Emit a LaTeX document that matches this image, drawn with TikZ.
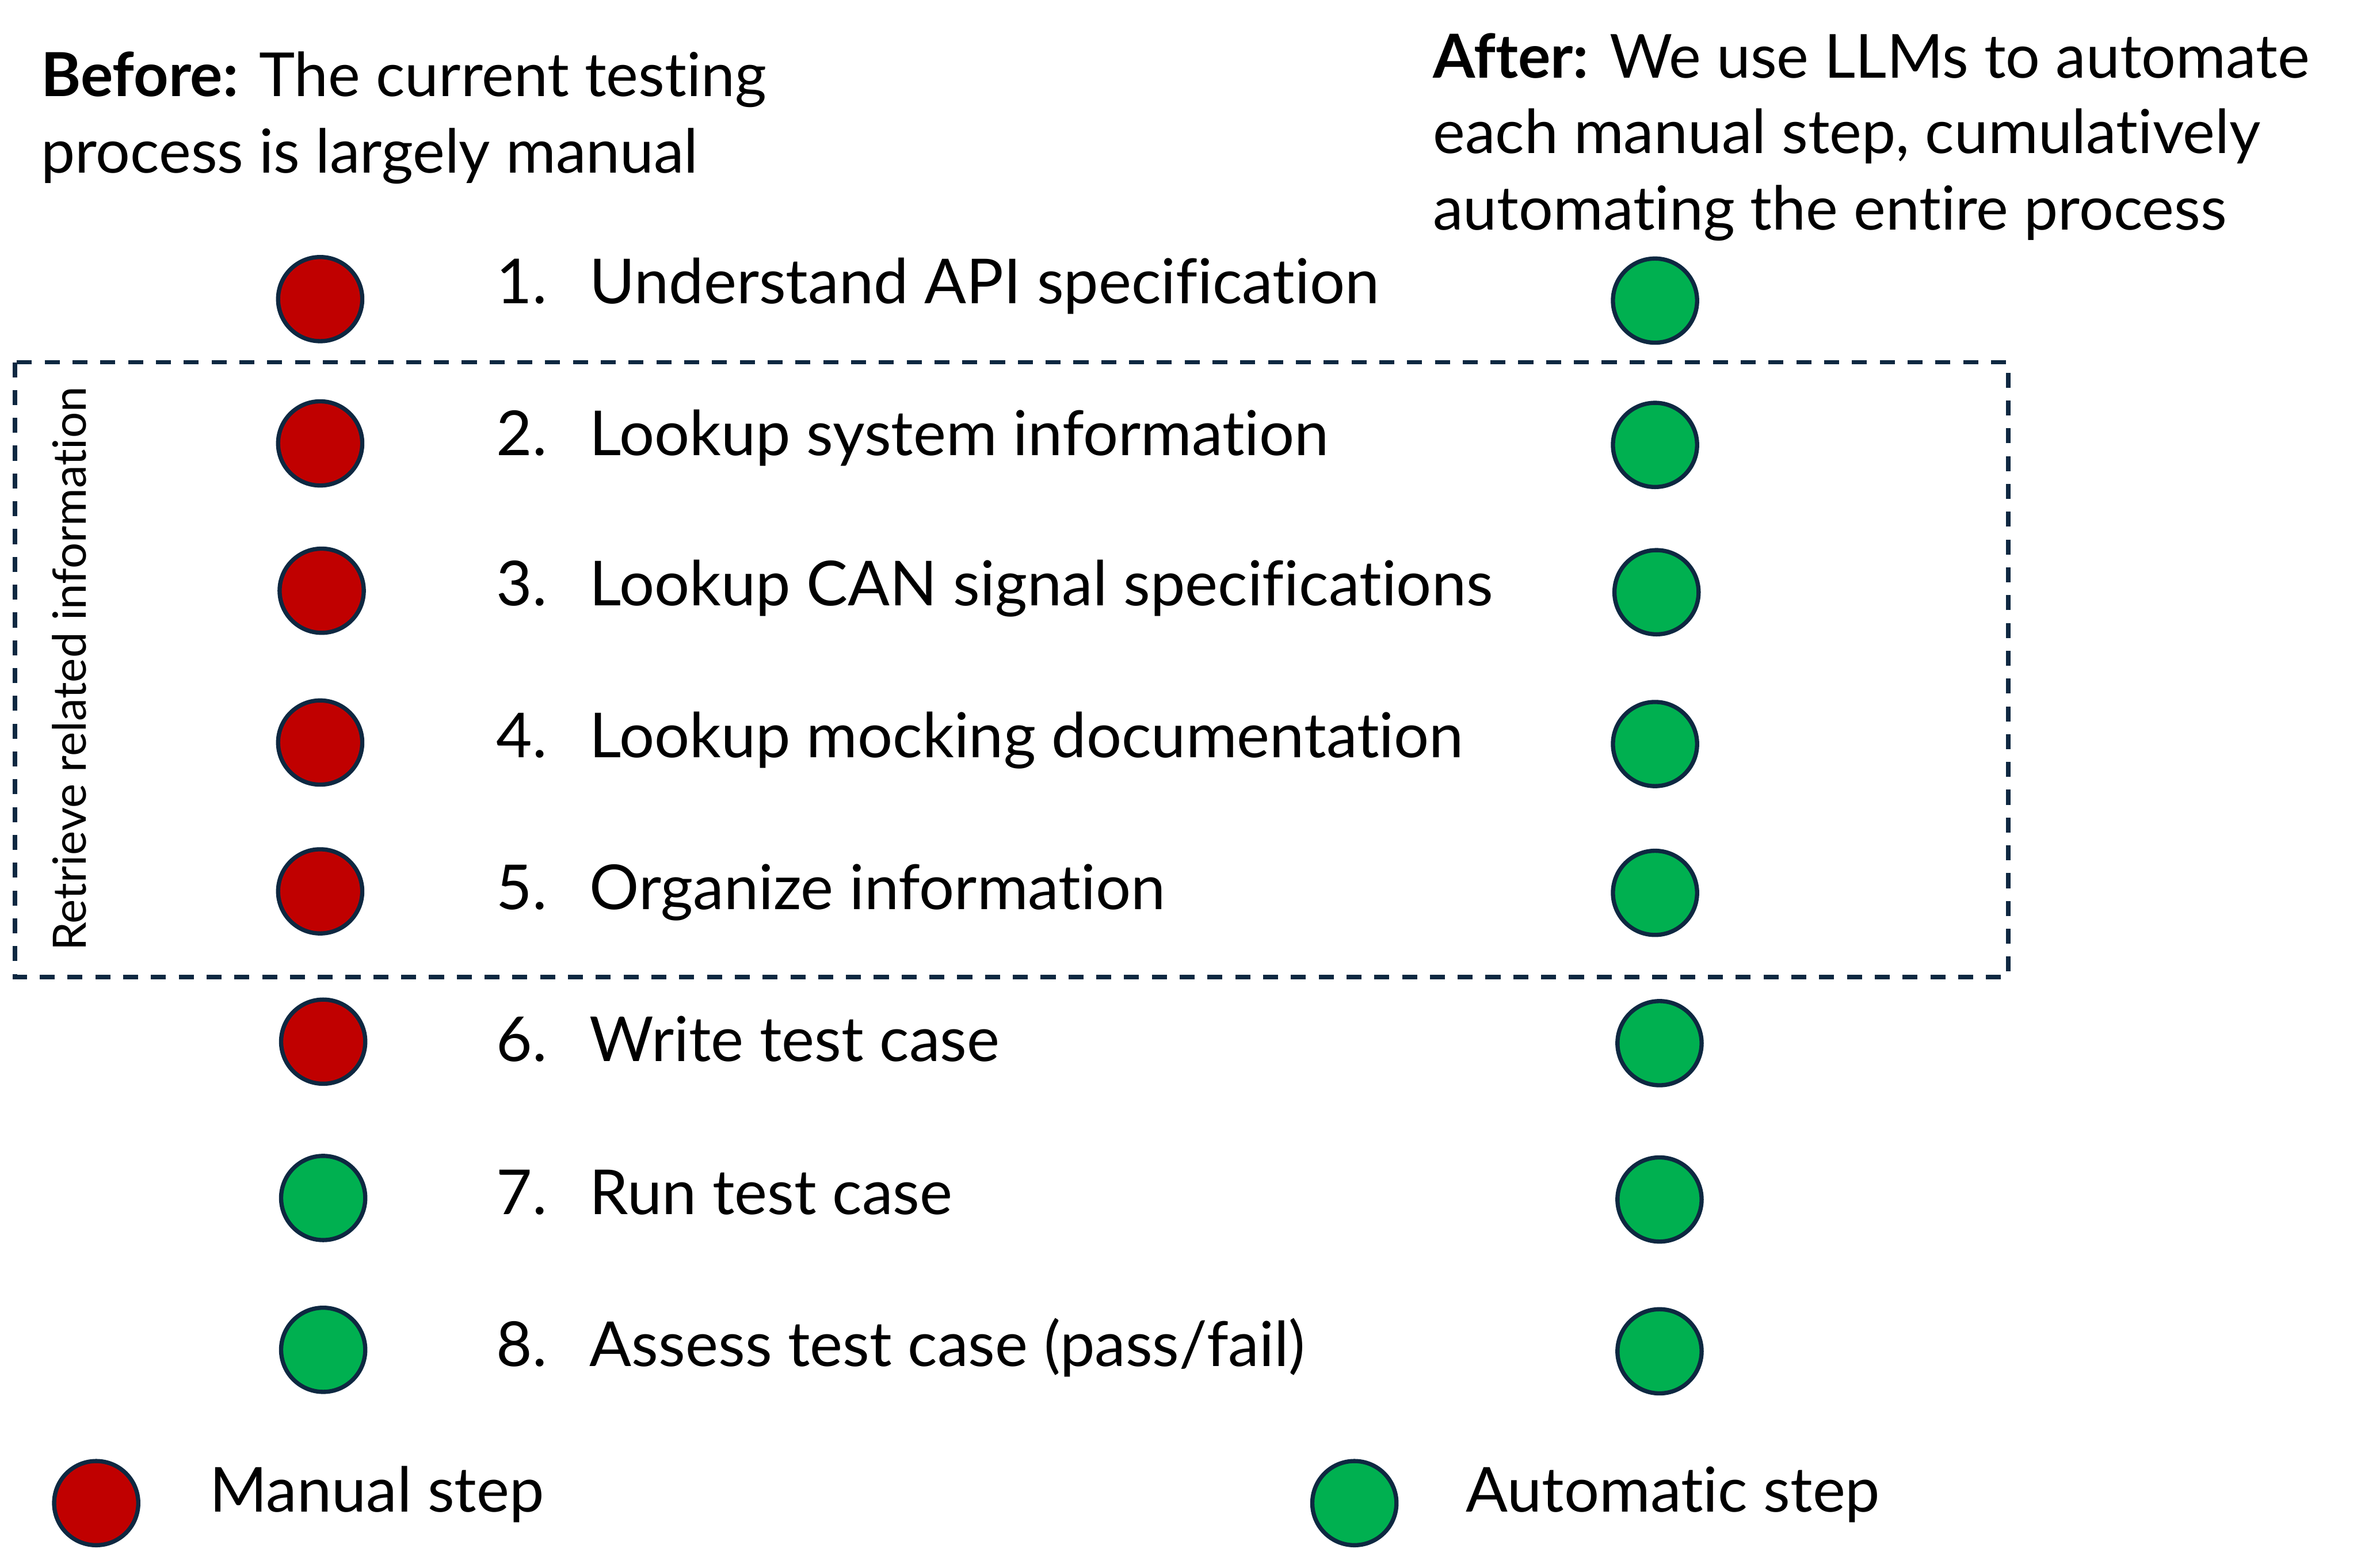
\documentclass[tikz,border=0pt]{standalone}
\usepackage{fontspec}
\setmainfont{Lato}[Ligatures={NoCommon,NoContextual}]
\usetikzlibrary{positioning}
\definecolor{manualred}{HTML}{C00000}
\definecolor{autogreen}{HTML}{00B050}
\definecolor{edgeblue}{HTML}{0E2841}

\begin{document}
\begin{tikzpicture}[x=0.02cm, y=-0.02cm,
    dot/.style={circle, draw=edgeblue, line width=1.6pt, minimum size=1.12cm, inner sep=0pt},
    manualstep/.style={dot, fill=manualred},
    autostep/.style={dot, fill=autogreen},
    txt/.style={anchor=base west, inner sep=0pt, font=\fontsize{23.5}{29}\selectfont},
    headtxt/.style={txt, font=\fontsize{23}{29}\selectfont},
    dashbox/.style={draw=edgeblue, line width=1.6pt, dash pattern=on 0.2cm off 0.17cm}]
    \useasboundingbox (0,0) rectangle (1568,1043);

    % Headers
    \node[headtxt] (before1) at (27,64) {\textbf{Before:} The current testing};
    \node[headtxt] (before2) at (27,115) {process is largely manual};
    \node[headtxt] (after1) at (953,52) {\textbf{After:} We use LLMs to automate};
    \node[headtxt] (after2) at (953,102) {each manual step, cumulatively};
    \node[headtxt] (after3) at (953,153) {automating the entire process};

    % Retrieve box
    \draw[dashbox] (10,241) rectangle (1336,650);
    \node[rotate=90, inner sep=0pt, font=\fontsize{17.4}{20}\selectfont] (retrieve) at (46,445) {Retrieve related information};

    % Steps
    \foreach \i/\step/\ycirc/\ybase/\xl/\xr/\kind in {
        1/{Understand API specification}/199/202/213/1101/manualstep,
        2/{Lookup system information}/295/303/213/1101/manualstep,
        3/{Lookup CAN signal specifications}/393/403/214/1102/manualstep,
        4/{Lookup mocking documentation}/494/504/213/1101/manualstep,
        5/{Organize information}/593/605/213/1101/manualstep,
        6/{Write test case}/693/706/215/1104/manualstep,
        7/{Run test case}/797/808/215/1104/autostep,
        8/{Assess test case (pass/fail)}/898/909/215/1104/autostep} {
        \node[\kind] (before\i) at (\xl,\ycirc) {};
        \node[autostep] (after\i) at (\xr,\ycirc+1) {};
        \node[txt] (num\i) at (330,\ybase) {\i.};
        \node[txt] (step\i) at (392,\ybase) {\step};
    }

    % Legend
    \node[manualstep] (legmanual) at (64,1000) {};
    \node[txt] (legmanualtxt) at (139,1006) {Manual step};
    \node[autostep] (legauto) at (901,1000) {};
    \node[txt] (legautotxt) at (975,1006) {Automatic step};
\end{tikzpicture}
\end{document}
